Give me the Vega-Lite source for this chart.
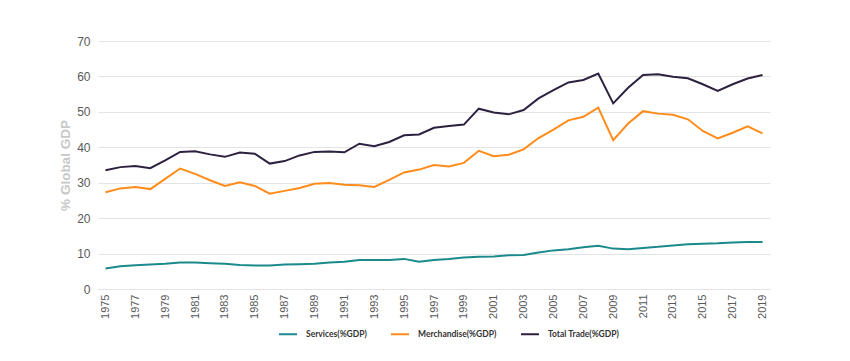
{
  "$schema": "https://vega.github.io/schema/vega-lite/v6.json",
  "width": 672,
  "height": 248,
  "autosize": {"type": "none"},
  "padding": {"left": 98, "top": 41, "right": 80, "bottom": 72},
  "background": "white",
  "config": {
    "view": {"stroke": null},
    "font": "Liberation Sans"
  },
  "datasets": {
    "trade": [
      {"year": 1975, "services": 5.8, "merch": 27.3, "total": 33.5},
      {"year": 1976, "services": 6.4, "merch": 28.4, "total": 34.4},
      {"year": 1977, "services": 6.7, "merch": 28.8, "total": 34.7},
      {"year": 1978, "services": 6.9, "merch": 28.2, "total": 34.1},
      {"year": 1979, "services": 7.1, "merch": 31.1, "total": 36.3},
      {"year": 1980, "services": 7.5, "merch": 34.0, "total": 38.7},
      {"year": 1981, "services": 7.5, "merch": 32.5, "total": 38.9},
      {"year": 1982, "services": 7.3, "merch": 30.7, "total": 38.0},
      {"year": 1983, "services": 7.1, "merch": 29.1, "total": 37.3},
      {"year": 1984, "services": 6.8, "merch": 30.1, "total": 38.5},
      {"year": 1985, "services": 6.6, "merch": 29.1, "total": 38.2},
      {"year": 1986, "services": 6.6, "merch": 26.9, "total": 35.4},
      {"year": 1987, "services": 6.9, "merch": 27.7, "total": 36.1},
      {"year": 1988, "services": 7.0, "merch": 28.5, "total": 37.7},
      {"year": 1989, "services": 7.1, "merch": 29.7, "total": 38.7},
      {"year": 1990, "services": 7.5, "merch": 29.9, "total": 38.8},
      {"year": 1991, "services": 7.7, "merch": 29.4, "total": 38.6},
      {"year": 1992, "services": 8.2, "merch": 29.3, "total": 41.0},
      {"year": 1993, "services": 8.2, "merch": 28.8, "total": 40.3},
      {"year": 1994, "services": 8.2, "merch": 30.8, "total": 41.5},
      {"year": 1995, "services": 8.5, "merch": 32.9, "total": 43.4},
      {"year": 1996, "services": 7.7, "merch": 33.7, "total": 43.6},
      {"year": 1997, "services": 8.2, "merch": 35.0, "total": 45.5},
      {"year": 1998, "services": 8.5, "merch": 34.6, "total": 46.0},
      {"year": 1999, "services": 8.9, "merch": 35.6, "total": 46.4},
      {"year": 2000, "services": 9.1, "merch": 39.0, "total": 50.9},
      {"year": 2001, "services": 9.2, "merch": 37.5, "total": 49.8},
      {"year": 2002, "services": 9.5, "merch": 37.9, "total": 49.3},
      {"year": 2003, "services": 9.6, "merch": 39.4, "total": 50.5},
      {"year": 2004, "services": 10.3, "merch": 42.6, "total": 53.8},
      {"year": 2005, "services": 10.9, "merch": 45.0, "total": 56.1},
      {"year": 2006, "services": 11.2, "merch": 47.6, "total": 58.3},
      {"year": 2007, "services": 11.8, "merch": 48.6, "total": 59.0},
      {"year": 2008, "services": 12.2, "merch": 51.2, "total": 60.8},
      {"year": 2009, "services": 11.4, "merch": 42.0, "total": 52.4},
      {"year": 2010, "services": 11.2, "merch": 46.7, "total": 56.8},
      {"year": 2011, "services": 11.6, "merch": 50.2, "total": 60.4},
      {"year": 2012, "services": 11.9, "merch": 49.5, "total": 60.6},
      {"year": 2013, "services": 12.3, "merch": 49.2, "total": 59.9},
      {"year": 2014, "services": 12.6, "merch": 47.9, "total": 59.5},
      {"year": 2015, "services": 12.8, "merch": 44.6, "total": 57.8},
      {"year": 2016, "services": 12.9, "merch": 42.5, "total": 55.9},
      {"year": 2017, "services": 13.1, "merch": 44.1, "total": 57.8},
      {"year": 2018, "services": 13.3, "merch": 45.9, "total": 59.4},
      {"year": 2019, "services": 13.3, "merch": 43.9, "total": 60.4}
    ]
  },
  "data": {"name": "trade"},
  "transform": [
    {"fold": ["services", "merch", "total"], "as": ["key", "value"]},
    {"lookup": "key", "from": {"data": {"values": [
      {"key": "services", "series": "Services(%GDP)"},
      {"key": "merch", "series": "Merchandise(%GDP)"},
      {"key": "total", "series": "Total Trade(%GDP)"}
    ]}, "key": "key", "fields": ["series"]}}
  ],
  "mark": {"type": "line", "strokeWidth": 2},
  "encoding": {
    "x": {
      "field": "year",
      "type": "ordinal",
      "scale": {"type": "point", "padding": 0.5},
      "axis": {
        "title": null,
        "values": [1975,1977,1979,1981,1983,1985,1987,1989,1991,1993,1995,1997,1999,2001,2003,2005,2007,2009,2011,2013,2015,2017,2019],
        "labelAngle": -90,
        "labelAlign": "right",
        "labelBaseline": "middle",
        "labelFontSize": 11,
        "labelColor": "#595959",
        "labelPadding": 5,
        "ticks": false,
        "domain": false,
        "grid": false
      }
    },
    "y": {
      "field": "value",
      "type": "quantitative",
      "scale": {"domain": [0, 70], "nice": false},
      "axis": {
        "title": "% Global GDP",
        "titleFontSize": 13.5,
        "titleFontWeight": "bold",
        "titleColor": "#c8c8c8",
        "titlePadding": 4,
        "values": [0, 10, 20, 30, 40, 50, 60, 70],
        "labelFontSize": 12,
        "labelColor": "#595959",
        "labelPadding": 8,
        "ticks": false,
        "domain": false,
        "gridColor": "#e3e3e3",
        "gridWidth": 1
      }
    },
    "color": {
      "field": "series",
      "type": "nominal",
      "scale": {
        "domain": ["Services(%GDP)", "Merchandise(%GDP)", "Total Trade(%GDP)"],
        "range": ["#1b8a8c", "#ff8c1a", "#2d2140"]
      },
      "legend": {
        "title": null,
        "orient": "none",
        "legendX": 180,
        "legendY": 283,
        "direction": "horizontal",
        "symbolType": "stroke",
        "symbolSize": 324,
        "symbolStrokeWidth": 2,
        "labelFont": "Lato",
        "labelFontWeight": "bold",
        "labelFontSize": 8.5,
        "labelColor": "#333333",
        "labelOffset": 8,
        "columnPadding": 20
      }
    }
  }
}
